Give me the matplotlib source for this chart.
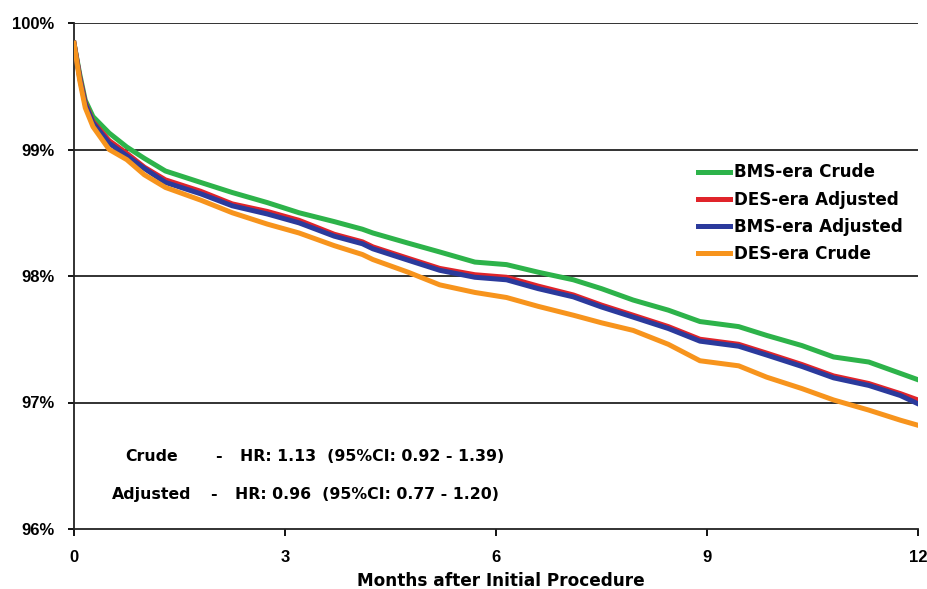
import matplotlib
matplotlib.use('Agg')
import matplotlib.pyplot as plt

# months after procedure (shared time grid for all curves)
months = [0, 0.08, 0.16, 0.27, 0.5, 0.75, 1.0, 1.3, 1.8, 2.25, 2.75, 3.2, 3.7,
          4.1, 4.25, 4.75, 5.2, 5.7, 6.15, 6.6, 7.1, 7.5, 7.95, 8.45, 8.9,
          9.45, 9.85, 10.35, 10.8, 11.3, 11.75, 12]

# event-free survival (%)
bms_crude = [99.84, 99.60, 99.39, 99.26, 99.13, 99.02, 98.93, 98.83, 98.74, 98.66,
             98.58, 98.50, 98.43, 98.37, 98.34, 98.26, 98.19, 98.11, 98.09, 98.03,
             97.97, 97.90, 97.81, 97.73, 97.64, 97.60, 97.53, 97.45, 97.36, 97.32,
             97.23, 97.18]
des_adjusted = [99.84, 99.58, 99.37, 99.22, 99.07, 98.97, 98.86, 98.76, 98.67, 98.57,
                98.51, 98.44, 98.33, 98.27, 98.23, 98.14, 98.06, 98.01, 97.99, 97.92,
                97.85, 97.77, 97.69, 97.60, 97.50, 97.46, 97.39, 97.30, 97.21, 97.15,
                97.07, 97.02]
bms_adjusted = [99.84, 99.57, 99.36, 99.21, 99.05, 98.95, 98.85, 98.74, 98.65, 98.555,
                98.49, 98.42, 98.315, 98.255, 98.215, 98.125, 98.045, 97.99, 97.97, 97.90,
                97.835, 97.755, 97.675, 97.585, 97.485, 97.445, 97.375, 97.285, 97.195, 97.135,
                97.055, 96.99]
des_crude = [99.84, 99.55, 99.33, 99.18, 99.00, 98.92, 98.80, 98.70, 98.60, 98.50,
             98.41, 98.34, 98.24, 98.17, 98.13, 98.03, 97.93, 97.87, 97.83, 97.76,
             97.69, 97.63, 97.57, 97.46, 97.33, 97.29, 97.20, 97.11, 97.02, 96.94,
             96.86, 96.82]

x_ticks = [0, 3, 6, 9, 12]
y_ticks = [96, 97, 98, 99, 100]
y_labels = ['96%', '97%', '98%', '99%', '100%']

tick_font = ['Liberation Sans', 'DejaVu Sans']
text_font = ['DejaVu Sans']

plt.rcParams['font.family'] = tick_font
plt.rcParams['font.weight'] = 'bold'

fig = plt.figure(figsize=(9.28, 5.89), dpi=100)
ax = fig.add_axes([74 / 928, 1 - 529 / 589, (918 - 74) / 928, (529 - 23) / 589])

for yv in [97, 98, 99, 100]:
    ax.axhline(yv, color='#222222', lw=1.3, zorder=1)

lw = 3.6
ax.plot(months, bms_crude, color='#2DB34A', lw=lw, label='BMS-era Crude', zorder=3)
ax.plot(months, des_adjusted, color='#E0242A', lw=lw, label='DES-era Adjusted', zorder=3)
ax.plot(months, bms_adjusted, color='#2B3A9C', lw=lw, label='BMS-era Adjusted', zorder=3)
ax.plot(months, des_crude, color='#F7941D', lw=lw, label='DES-era Crude', zorder=3)

ax.set_xlim(0, 12)
ax.set_ylim(96, 100)
ax.set_xticks(x_ticks)
ax.set_xticklabels([str(t) for t in x_ticks], fontsize=12, fontweight='bold')
ax.set_yticks(y_ticks)
ax.set_yticklabels(y_labels, fontsize=12, fontweight='bold')
ax.tick_params(axis='x', direction='out', length=5, width=1.3, pad=10)
ax.tick_params(axis='y', direction='out', length=4, width=1.3, pad=10)

for side in ['top', 'right']:
    ax.spines[side].set_visible(False)
for side in ['left', 'bottom']:
    ax.spines[side].set_linewidth(1.3)
    ax.spines[side].set_color('#222222')

ax.set_xlabel('Months after Initial Procedure', fontsize=12.2, fontweight='bold',
              family=text_font)
ax.xaxis.set_label_coords((501 - 74) / 844, -0.085)

ax.legend(loc='upper left', bbox_to_anchor=(690 / 928, 1 - 155 / 589),
          bbox_transform=fig.transFigure, frameon=False,
          prop={'family': text_font, 'weight': 'bold', 'size': 12.1},
          handlelength=1.9, handletextpad=0.2, labelspacing=0.55, borderpad=0)

# hazard ratio annotation
ann = dict(fontsize=11.3, fontweight='bold', family=text_font, va='center')
ax.text(1.1, 96.57, 'Crude', ha='center', **ann)
ax.text(2.05, 96.57, '-', ha='center', **ann)
ax.text(2.36, 96.57, 'HR: 1.13  (95%CI: 0.92 - 1.39)', ha='left', **ann)
ax.text(1.1, 96.27, 'Adjusted', ha='center', **ann)
ax.text(1.98, 96.27, '-', ha='center', **ann)
ax.text(2.29, 96.27, 'HR: 0.96  (95%CI: 0.77 - 1.20)', ha='left', **ann)

fig.savefig('out.png', dpi=100)
